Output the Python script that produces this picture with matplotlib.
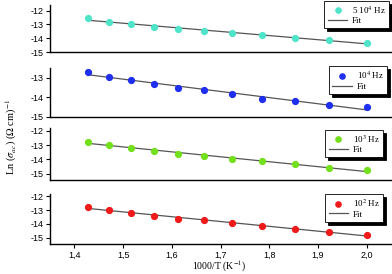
import numpy as np
import matplotlib
matplotlib.use("Agg")
import matplotlib.pyplot as plt

plt.rcParams["font.family"] = "Liberation Sans"
plt.rcParams["mathtext.fontset"] = "stix"

# 1000/T for T = 700 ... 500 K
x = [1.4286, 1.4706, 1.5152, 1.5625, 1.6129, 1.6667, 1.7241, 1.7857, 1.8519, 1.9231, 2.0]

y_5e4 = [-12.57, -12.79, -12.95, -13.17, -13.36, -13.45, -13.60, -13.79, -13.98, -14.14, -14.33]
y_1e4 = [-12.71, -12.96, -13.10, -13.32, -13.50, -13.62, -13.82, -14.06, -14.21, -14.38, -14.50]
y_1e3 = [-12.75, -12.97, -13.19, -13.41, -13.61, -13.77, -13.95, -14.14, -14.34, -14.58, -14.77]
y_1e2 = [-12.76, -12.98, -13.19, -13.41, -13.61, -13.73, -13.95, -14.17, -14.36, -14.61, -14.80]

labels = [r"5 10$^4$ Hz", r"10$^4$ Hz", r"10$^3$ Hz", r"10$^2$ Hz"]
colors = ["#4fe3c8", "#1f2ff0", "#72e01a", "#f01a1a"]
series = [y_5e4, y_1e4, y_1e3, y_1e2]

xticks = [1.4, 1.5, 1.6, 1.7, 1.8, 1.9, 2.0]
xticklabels = ["1,4", "1,5", "1,6", "1,7", "1,8", "1,9", "2,0"]

fig = plt.figure(figsize=(3.92, 2.74), dpi=100)

# panel boxes (left, bottom, width, height) in figure fractions
boxes = [(0.1276, 0.810, 0.87, 0.1715),
         (0.1276, 0.573, 0.87, 0.179),
         (0.1276, 0.343, 0.87, 0.190),
         (0.1276, 0.108, 0.87, 0.1825)]
ylims = [(-15, -11.6), (-15, -12.5), (-15.45, -11.8), (-15.5, -11.85)]
yticks = [[-12, -13, -14, -15], [-13, -14, -15], [-12, -13, -14, -15], [-12, -13, -14, -15]]
leg_anchor = [(0.994, 1.085), (0.988, 1.03), (0.977, 0.96), (0.977, 1.0)]

for i in range(4):
    ax = fig.add_axes(boxes[i])
    xs = np.array(x)
    ys = np.array(series[i])
    k, b = np.polyfit(xs, ys, 1)
    ax.plot(xs, ys, "o", color=colors[i], markersize=4.2, markeredgecolor=colors[i],
            label=labels[i], zorder=3)
    ax.plot(xs, k * xs + b, "-", color="#555555", lw=0.9, label="Fit", zorder=2)
    ax.set_xlim(1.35, 2.05)
    ax.set_ylim(*ylims[i])
    ax.set_yticks(yticks[i])
    ax.set_yticklabels([str(t) for t in yticks[i]])
    for s in ["top", "right"]:
        ax.spines[s].set_visible(False)
    for s in ["left", "bottom"]:
        ax.spines[s].set_linewidth(1.0)
    ax.tick_params(axis="y", direction="out", length=3, width=0.8, labelsize=6.5, pad=1.5)
    if i == 3:
        ax.set_xticks(xticks)
        ax.set_xticklabels(xticklabels)
        ax.tick_params(axis="x", direction="out", length=3, width=0.8, labelsize=6.5, pad=1.5)
    else:
        ax.set_xticks([])
    leg = ax.legend(loc="upper right", bbox_to_anchor=leg_anchor[i], borderaxespad=0,
                    fancybox=False, framealpha=1, edgecolor="black",
                    shadow={"color": "black", "alpha": 1},
                    prop={"family": "Liberation Serif", "size": 6.5},
                    handlelength=2.2, handletextpad=0.5, borderpad=0.35,
                    labelspacing=0.15, markerscale=0.9)
    leg.get_frame().set_linewidth(0.6)

fig.text(0.028, 0.5, r"Ln ($\sigma_{ac}$) ($\Omega$ cm)$^{-1}$", rotation=90,
         va="center", ha="center", fontfamily="Liberation Serif", fontsize=7.5)
fig.text(0.56, 0.028, r"1000/T (K$^{-1}$)", va="center", ha="center",
         fontfamily="Liberation Serif", fontsize=7)

fig.savefig("out.png", dpi=100)
